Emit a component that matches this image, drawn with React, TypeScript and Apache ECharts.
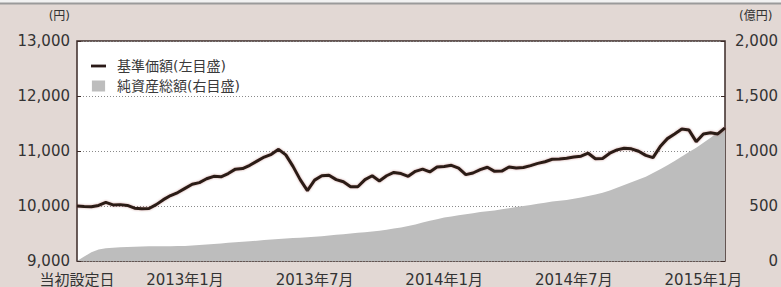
import React, { useEffect, useRef } from "react";
import * as echarts from "echarts";

// Categories: 1st, 11th, 21st of each month from 2012-08 to 2015-01, plus 2015-02-01
const startYear = 2012;
const startMonth = 8;
const monthCount = 30;
const dayMarks = [1, 11, 21];
const dates: string[] = [];
for (let m = 0; m < monthCount; m++) {
  const y = startYear + Math.floor((startMonth - 1 + m) / 12);
  const mo = ((startMonth - 1 + m) % 12) + 1;
  for (const d of dayMarks) {
    dates.push(`${y}-${String(mo).padStart(2, "0")}-${String(d).padStart(2, "0")}`);
  }
}
dates.push("2015-02-01");

const tickDates = ["2012-08-01", "2013-01-01", "2013-07-01", "2014-01-01", "2014-07-01", "2015-01-01"];
const tickLabels = ["当初設定日", "2013年1月", "2013年7月", "2014年1月", "2014年7月", "2015年1月"];

// 基準価額 (円), left axis
const navValues = [
  10000, 9990, 9985, 10010, 10065, 10020, 10025, 10010, 9960, 9950,
  9955, 10025, 10115, 10190, 10245, 10320, 10395, 10425, 10495, 10540,
  10530, 10590, 10670, 10680, 10740, 10815, 10890, 10940, 11030, 10930,
  10720, 10480, 10280, 10470, 10550, 10560, 10480, 10440, 10350, 10350,
  10480, 10550, 10455, 10550, 10610, 10590, 10540, 10630, 10670, 10620,
  10710, 10720, 10740, 10690, 10570, 10600, 10660, 10705, 10630, 10635,
  10710, 10690, 10700, 10735, 10775, 10805, 10850, 10855, 10870, 10890,
  10905, 10960, 10860, 10865, 10960, 11020, 11050, 11040, 10995, 10920,
  10880, 11080, 11225, 11310, 11400, 11380, 11170, 11310, 11330, 11310,
  11420,
];

// 純資産総額 (億円), right axis
const assetValues = [
  0, 40, 80, 105, 115, 120, 125, 128, 130, 132,
  133, 134, 134, 135, 136, 137, 140, 145, 150, 155,
  160, 165, 170, 175, 180, 185, 190, 195, 200, 204,
  208, 212, 216, 220, 226, 232, 238, 244, 250, 256,
  262, 268, 275, 285, 295, 305, 318, 332, 350, 365,
  380, 395, 405, 415, 425, 435, 445, 452, 460, 470,
  480, 490, 500, 510, 520, 530, 540, 548, 555, 565,
  578, 590, 605, 620, 640, 665, 690, 715, 740, 765,
  800, 835, 870, 910, 950, 990, 1030, 1075, 1120, 1170,
  1220,
];

const seriesNames = ["基準価額(左目盛)", "純資産総額(右目盛)"];
const leftUnit = "(円)";
const rightUnit = "(億円)";

const FONT = "'DejaVu Sans', 'Noto Sans CJK JP', sans-serif";

export default function App() {
  const ref = useRef<HTMLDivElement>(null);
  useEffect(() => {
    if (!ref.current) return;
    const chart = echarts.init(ref.current, null, { renderer: "svg" });
    const tickIdx = tickDates.map((d) => dates.indexOf(d));
    chart.setOption({
      animation: false,
      backgroundColor: "#e2d8d4",
      textStyle: { fontFamily: FONT },
      grid: {
        left: 77,
        right: 49,
        top: 41,
        bottom: 25,
        show: true,
        backgroundColor: "#ffffff",
        borderColor: "#3b2a27",
        borderWidth: 1.5,
      },
      legend: {
        orient: "vertical",
        left: 86,
        top: 54,
        itemGap: 6,
        itemWidth: 15,
        itemHeight: 11,
        textStyle: { fontFamily: FONT, fontSize: 14, color: "#3a3a3a", padding: [0, 0, 0, 6] },
        data: [
          { name: seriesNames[0], icon: "path://M0 0H16V3H0Z", itemStyle: { color: "#2a1a17" } },
          { name: seriesNames[1], icon: "path://M0 0H12V10H0Z", itemStyle: { color: "#bdbdbd" } },
        ],
      },
      xAxis: {
        type: "category",
        data: dates,
        boundaryGap: false,
        axisLine: { show: false },
        axisTick: {
          show: true,
          inside: true,
          length: 6,
          interval: (i: number) => tickIdx.indexOf(i) > 0,
          lineStyle: { color: "#3b2a27", width: 1 },
        },
        axisLabel: {
          interval: (i: number) => tickIdx.indexOf(i) >= 0,
          formatter: (v: string) => {
            const k = tickDates.indexOf(v);
            return k >= 0 ? tickLabels[k] : "";
          },
          margin: 11,
          fontFamily: FONT,
          fontSize: 15,
          color: "#333333",
        },
        splitLine: { show: false },
      },
      yAxis: [
        {
          type: "value",
          min: 9000,
          max: 13000,
          interval: 1000,
          position: "left",
          axisLine: { show: false },
          axisTick: { show: true, inside: true, length: 4, lineStyle: { color: "#3b2a27" } },
          axisLabel: {
            margin: 7,
            fontFamily: FONT,
            fontSize: 15,
            color: "#333333",
            formatter: (v: number) => v.toLocaleString("en-US"),
          },
          splitLine: { show: true, lineStyle: { type: [1, 2], color: "#8a8a8a", width: 1 } },
        },
        {
          type: "value",
          min: 0,
          max: 2000,
          interval: 500,
          position: "right",
          axisLine: { show: false },
          axisTick: { show: true, inside: true, length: 4, lineStyle: { color: "#3b2a27" } },
          axisLabel: {
            margin: 53,
            align: "right",
            fontFamily: FONT,
            fontSize: 15,
            color: "#333333",
            formatter: (v: number) => v.toLocaleString("en-US"),
          },
          splitLine: { show: false },
        },
      ],
      graphic: [
        { type: "rect", shape: { x: 0, y: 0, width: 781, height: 3 }, style: { fill: "#f2f2f2" }, silent: true },
        { type: "line", shape: { x1: 0, y1: 3.5, x2: 781, y2: 3.5 }, style: { stroke: "#9a9a9a", lineWidth: 2 }, silent: true },
        {
          type: "text",
          x: 70,
          y: 16,
          style: { text: leftUnit, fontFamily: FONT, fontSize: 12, fill: "#333333", align: "right", verticalAlign: "middle" },
        },
        {
          type: "text",
          x: 739,
          y: 16,
          style: { text: rightUnit, fontFamily: FONT, fontSize: 12, fill: "#333333", align: "left", verticalAlign: "middle" },
        },
      ],
      series: [
        {
          name: seriesNames[1],
          type: "line",
          yAxisIndex: 1,
          data: assetValues,
          symbol: "none",
          lineStyle: { width: 0 },
          areaStyle: { color: "#bdbdbd", opacity: 1 },
          itemStyle: { color: "#bdbdbd" },
          z: 1,
        },
        {
          name: seriesNames[0],
          type: "line",
          yAxisIndex: 0,
          data: navValues,
          symbol: "none",
          lineStyle: { width: 3, color: "#2a1a17", shadowColor: "rgba(140,60,50,0.45)", shadowBlur: 2 },
          itemStyle: { color: "#2a1a17" },
          z: 3,
        },
      ],
    });
    return () => chart.dispose();
  }, []);
  return (
    <div
      ref={ref}
      style={{ position: "absolute", left: 0, top: 0, width: 781, height: 287 }}
    />
  );
}
